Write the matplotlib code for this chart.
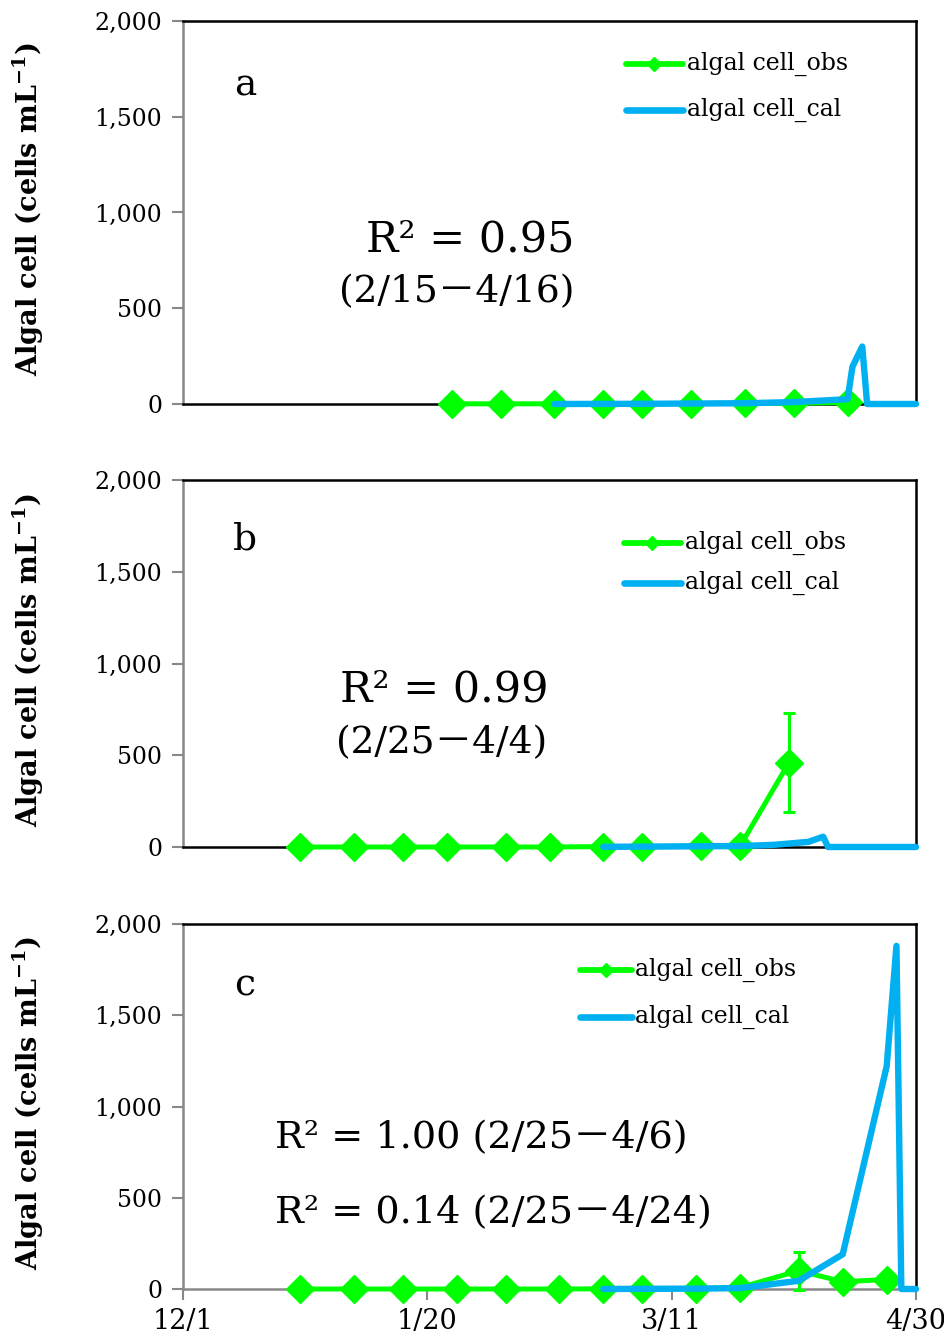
import datetime as dt
import matplotlib
matplotlib.use("Agg")
import matplotlib.pyplot as plt

plt.rcParams['font.family'] = ['DejaVu Serif', 'Noto Sans CJK JP']
plt.rcParams['mathtext.fontset'] = 'dejavuserif'

# ---------------- data ----------------
x_tick_labels = ['12/1', '1/20', '3/11', '4/30']
y_ticks = [0, 500, 1000, 1500, 2000]

a_obs_dates = ['1/25', '2/4', '2/15', '2/25', '3/5', '3/15', '3/26', '4/5', '4/16']
a_obs_vals = [1, 1, 1, 2, 2, 2, 3, 4, 8]
a_obs_err = [0, 0, 0, 0, 0, 0, 0, 0, 0]
a_cal_dates = ['2/15', '3/5', '3/26', '4/5', '4/16', '4/17', '4/19', '4/20', '4/30']
a_cal_vals = [0, 1, 4, 10, 25, 195, 300, 0, 0]

b_obs_dates = ['12/25', '1/5', '1/15', '1/24', '2/5', '2/14', '2/25', '3/5', '3/17', '3/25', '4/4']
b_obs_vals = [0, 0, 0, 0, 0, 0, 2, 2, 5, 5, 460]
b_obs_err = [0, 0, 0, 0, 0, 0, 0, 0, 0, 0, 270]
b_cal_dates = ['2/25', '3/5', '3/17', '3/25', '4/1', '4/8', '4/11', '4/12', '4/30']
b_cal_vals = [1, 2, 4, 5, 12, 28, 56, 0, 0]

c_obs_dates = ['12/25', '1/5', '1/15', '1/26', '2/5', '2/16', '2/25', '3/5', '3/16', '3/25',
               '4/6', '4/15', '4/24']
c_obs_vals = [0, 0, 0, 0, 0, 0, 1, 1, 2, 8, 100, 40, 52]
c_obs_err = [0, 0, 0, 0, 0, 0, 0, 0, 0, 0, 105, 0, 0]
c_cal_dates = ['2/25', '3/5', '3/16', '3/25', '4/6', '4/15', '4/24', '4/26', '4/27', '4/30']
c_cal_vals = [0, 1, 2, 5, 45, 190, 1220, 1880, 0, 0]

panel_letters = ['a', 'b', 'c']
obs_label = 'algal cell_obs'
cal_label = 'algal cell_cal'
ylabel = 'Algal cell (cells mL$^{\\mathregular{-1}}$)'

GREEN = '#00FF00'
BLUE = '#00B0F0'
GRAY = '#888888'


def to_date(s):
    m, d = (int(v) for v in s.split('/'))
    return dt.datetime(2014 if m == 12 else 2015, m, d)


fig = plt.figure(figsize=(9.45, 13.38), dpi=100)
W, H = 945, 1338
boxes = [(183, 21, 916, 404), (183, 480, 916, 847), (183, 924, 916, 1289)]
axes = []
for (l, t, r, b) in boxes:
    axes.append(fig.add_axes([l / W, (H - b) / H, (r - l) / W, (b - t) / H]))

panels = [
    (a_obs_dates, a_obs_vals, a_obs_err, a_cal_dates, a_cal_vals),
    (b_obs_dates, b_obs_vals, b_obs_err, b_cal_dates, b_cal_vals),
    (c_obs_dates, c_obs_vals, c_obs_err, c_cal_dates, c_cal_vals),
]

# legend geometry in pixels: (line x0, line x1, text x, row1 y, row2 y)
legend_px = [(626, 683, 687, 64, 110), (624, 681, 685, 543, 583), (580, 632, 635, 970, 1017)]
letter_px = [(245, 85), (245, 540), (245, 985)]

xt = [to_date(s) for s in x_tick_labels]
for i, (ax, (od, ov, oe, cd, cv)) in enumerate(zip(axes, panels)):
    l, t, r, b = boxes[i]
    ox = [to_date(s) for s in od]
    cx = [to_date(s) for s in cd]
    cont = ax.errorbar(ox, ov, yerr=oe, color=GREEN, lw=3.6, marker='D', ms=14.5,
                       mec=GREEN, mfc=GREEN, ecolor=GREEN, elinewidth=2.2,
                       capsize=4.5, capthick=2.2, zorder=3)
    for art in cont.get_children():
        art.set_clip_on(False)
    ax.plot(cx, cv, color=BLUE, lw=4.6, solid_capstyle='round',
            solid_joinstyle='round', zorder=4, clip_on=False)
    ax.set_xlim(xt[0], xt[-1])
    ax.set_ylim(0, 2000)
    ax.set_yticks(y_ticks)
    ax.set_yticklabels([f'{v:,}' for v in y_ticks], fontsize=17)
    ax.tick_params(axis='y', direction='out', length=8, width=1.5,
                   color=GRAY, pad=7)
    ax.set_xticks(xt)
    if i == 2:
        ax.set_xticklabels(x_tick_labels, fontsize=19.5)
        ax.tick_params(axis='x', direction='out', length=8, width=1.5,
                       color=GRAY, pad=6)
        ax.spines['bottom'].set_color(GRAY)
    else:
        ax.set_xticklabels([])
        ax.tick_params(axis='x', length=0)
        ax.spines['bottom'].set_color('black')
    ax.spines['left'].set_color(GRAY)
    for s in ['top', 'right', 'bottom', 'left']:
        ax.spines[s].set_linewidth(1.8)
    ax.set_ylabel(ylabel, fontsize=19.5, fontweight='bold')
    ax.yaxis.set_label_coords((46 - l) / (r - l), 0.51)

    lx, ly = letter_px[i]
    ax.text((lx - l) / (r - l), (b - ly) / (b - t), panel_letters[i],
            transform=ax.transAxes, fontsize=27, ha='center', va='center')

    # manual legend
    x0, x1, tx, y1, y2 = legend_px[i]
    fx = lambda px: (px - l) / (r - l)
    fy = lambda py: (b - py) / (b - t)
    ax.plot([fx(x0), fx(x1)], [fy(y1), fy(y1)], transform=ax.transAxes, color=GREEN,
            lw=4.2, solid_capstyle='round', clip_on=False)
    ax.plot([fx((x0 + x1) / 2)], [fy(y1)], transform=ax.transAxes, color=GREEN,
            marker='D', ms=7.5, clip_on=False)
    ax.plot([fx(x0), fx(x1)], [fy(y2), fy(y2)], transform=ax.transAxes, color=BLUE,
            lw=4.8, solid_capstyle='round', clip_on=False)
    ax.text(fx(tx), fy(y1), obs_label, transform=ax.transAxes, fontsize=17,
            ha='left', va='center')
    ax.text(fx(tx), fy(y2), cal_label, transform=ax.transAxes, fontsize=17,
            ha='left', va='center')

# R^2 annotations
fs_r = 31
fs_p = 27
fs_c = 27.5
axes[0].text((470 - 183) / 733, (404 - 240) / 383, 'R² = 0.95',
             transform=axes[0].transAxes, fontsize=fs_r, ha='center', va='center')
axes[0].text((457 - 183) / 733, (404 - 292) / 383, '(2/15－4/16)',
             transform=axes[0].transAxes, fontsize=fs_p, ha='center', va='center')
axes[1].text((444 - 183) / 733, (847 - 690) / 367, 'R² = 0.99',
             transform=axes[1].transAxes, fontsize=fs_r, ha='center', va='center')
axes[1].text((442 - 183) / 733, (847 - 743) / 367, '(2/25－4/4)',
             transform=axes[1].transAxes, fontsize=fs_p, ha='center', va='center')
axes[2].text((275 - 183) / 733, (1289 - 1138) / 365, 'R² = 1.00 (2/25－4/6)',
             transform=axes[2].transAxes, fontsize=fs_c, ha='left', va='center')
axes[2].text((275 - 183) / 733, (1289 - 1213) / 365, 'R² = 0.14 (2/25－4/24)',
             transform=axes[2].transAxes, fontsize=fs_c, ha='left', va='center')

fig.savefig('out.png', dpi=100)
